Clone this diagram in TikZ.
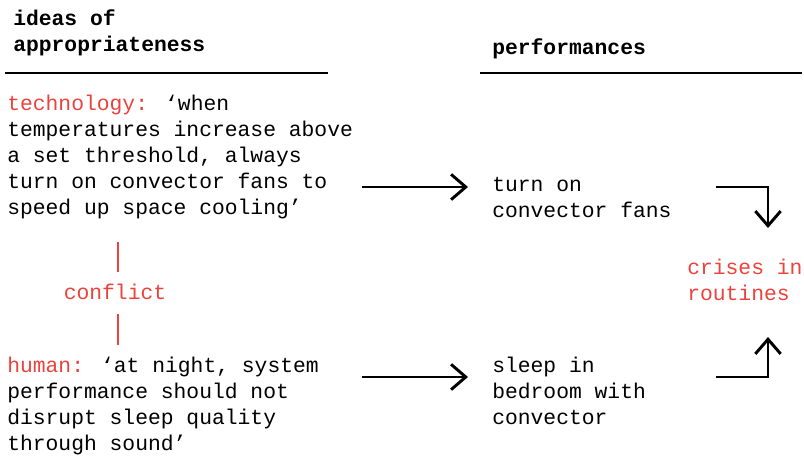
\documentclass[tikz,border=0pt]{standalone}
\usepackage{fontspec}
\setmainfont{Liberation Mono}
\usetikzlibrary{arrows.meta}
\definecolor{cred}{RGB}{234,67,60}
\newcommand{\blk}[1]{\begin{tabular}[t]{@{}l@{}}#1\end{tabular}}
\begin{document}
\begin{tikzpicture}[x=0.75pt,y=-0.75pt,
  txt/.style={inner sep=0pt, anchor=base west, font=\fontsize{16}{19.5}\selectfont},
  ttl/.style={txt, font=\fontsize{16}{19.5}\selectfont\bfseries},
  rulel/.style={line width=1.5pt},
  redl/.style={cred, line width=2.2pt},
  arr/.style={line width=2.2pt, -{Straight Barb[length=11pt,width=19pt,line width=2.2pt]}}]
\useasboundingbox (0,0) rectangle (804,456);
% titles
\node[ttl] (t1) at (13,26) {\blk{ideas of\\appropriateness}};
\node[ttl] (t2) at (492,55) {performances};
\draw[rulel] (5,73) -- (328,73);
\draw[rulel] (480,73) -- (802,73);
% left blocks
\node[txt] (tech) at (7,111) {\blk{\textcolor{cred}{technology:} ‘when\\temperatures increase above\\a set threshold, always\\turn on convector fans to\\speed up space cooling’}};
\node[txt] (human) at (7,373) {\blk{\textcolor{cred}{human:} ‘at night, system\\performance should not\\disrupt sleep quality\\through sound’}};
\node[txt, anchor=base, text=cred] (conflict) at (115,300) {conflict};
\draw[redl] (118,242) -- (118,272);
\draw[redl] (118,314) -- (118,345);
% right blocks
\node[txt] (turnon) at (492,192) {\blk{turn on\\convector fans}};
\node[txt] (sleep) at (492,373) {\blk{sleep in\\bedroom with\\convector}};
\node[txt, text=cred] (crises) at (687,275) {\blk{crises in\\routines}};
% arrows
\coordinate (a1s) at (362,187); \coordinate (a1e) at (468,187);
\coordinate (a2s) at (362,377); \coordinate (a2e) at (468,377);
\coordinate (b1s) at (716,187); \coordinate (b1e) at (768,228);
\coordinate (b2s) at (716,377); \coordinate (b2e) at (768,337);
\draw[arr] (a1s) -- (a1e);
\draw[arr] (a2s) -- (a2e);
\draw[arr] (b1s) -| (b1e);
\draw[arr] (b2s) -| (b2e);
\end{tikzpicture}
\end{document}
